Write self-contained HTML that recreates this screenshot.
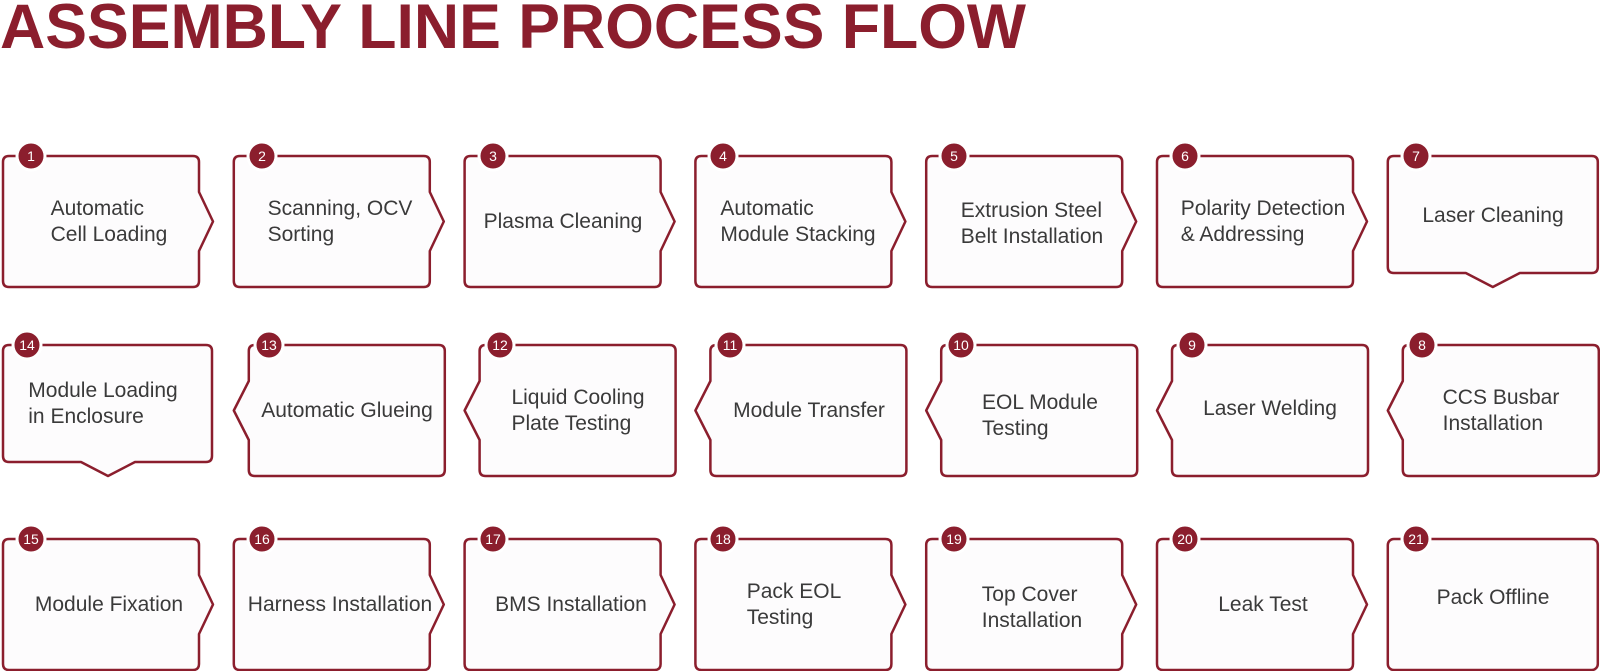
<!DOCTYPE html>
<html><head><meta charset="utf-8"><style>
body{margin:0;width:1600px;height:671px;background:#fff;position:relative;overflow:hidden;font-family:"Liberation Sans",sans-serif}
svg{position:absolute;left:0;top:0}
.t{position:absolute;display:flex;align-items:center;justify-content:center;text-align:left;font-size:21px;line-height:26px;color:#3a3a3a}
</style></head><body>
<svg width="1600" height="671" viewBox="0 0 1600 671">
<defs>
<path id="R" d="M6,0 H190 Q196,0 196,6 V36 L210,65.5 L196,95 V125 Q196,131 190,131 H6 Q0,131 0,125 V6 Q0,0 6,0 Z"/>
<path id="L" d="M21,0 H205 Q211,0 211,6 V125 Q211,131 205,131 H21 Q15,131 15,125 V95 L0,65.5 L15,36 V6 Q15,0 21,0 Z"/>
</defs>
<text x="0" y="48" font-family="Liberation Sans" font-weight="bold" font-size="63" fill="#8b1e2d" textLength="1026" lengthAdjust="spacingAndGlyphs">ASSEMBLY LINE PROCESS FLOW</text>
<g fill="#fdfcfd" stroke="#8b1e2d" stroke-width="2.5" stroke-linejoin="round">
<use href="#R" x="3" y="156"/><use href="#R" x="233.8" y="156"/><use href="#R" x="464.6" y="156"/><use href="#R" x="695.4" y="156"/><use href="#R" x="926.2" y="156"/><use href="#R" x="1157" y="156"/>
<path transform="translate(1387.8,156)" d="M6,0 H204 Q210,0 210,6 V111 Q210,117 204,117 H132 L105,131 L78,117 H6 Q0,117 0,111 V6 Q0,0 6,0 Z"/>
<path transform="translate(3,345)" d="M6,0 H203 Q209,0 209,6 V111 Q209,117 203,117 H132 L105,131 L78,117 H6 Q0,117 0,111 V6 Q0,0 6,0 Z"/>
<use href="#L" x="233.8" y="345"/><use href="#L" x="464.6" y="345"/><use href="#L" x="695.4" y="345"/><use href="#L" x="926.2" y="345"/><use href="#L" x="1157" y="345"/><use href="#L" x="1387.8" y="345"/>
<use href="#R" x="3" y="539"/><use href="#R" x="233.8" y="539"/><use href="#R" x="464.6" y="539"/><use href="#R" x="695.4" y="539"/><use href="#R" x="926.2" y="539"/><use href="#R" x="1157" y="539"/>
<rect x="1387.8" y="539" width="210" height="131" rx="6"/>
</g>
<g fill="#8b1e2d" stroke="#fff" stroke-width="3">
<circle cx="31" cy="156" r="14"/><circle cx="262" cy="156" r="14"/><circle cx="493" cy="156" r="14"/><circle cx="723" cy="156" r="14"/><circle cx="954" cy="156" r="14"/><circle cx="1185" cy="156" r="14"/><circle cx="1416" cy="156" r="14"/>
<circle cx="27" cy="345" r="14"/><circle cx="269" cy="345" r="14"/><circle cx="500" cy="345" r="14"/><circle cx="730" cy="345" r="14"/><circle cx="961" cy="345" r="14"/><circle cx="1192" cy="345" r="14"/><circle cx="1422" cy="345" r="14"/>
<circle cx="31" cy="539" r="14"/><circle cx="262" cy="539" r="14"/><circle cx="493" cy="539" r="14"/><circle cx="723" cy="539" r="14"/><circle cx="954" cy="539" r="14"/><circle cx="1185" cy="539" r="14"/><circle cx="1416" cy="539" r="14"/>
</g>
<g fill="#fff" font-family="Liberation Sans" font-size="14" text-anchor="middle">
<text x="31" y="161">1</text><text x="262" y="161">2</text><text x="493" y="161">3</text><text x="723" y="161">4</text><text x="954" y="161">5</text><text x="1185" y="161">6</text><text x="1416" y="161">7</text>
<text x="27" y="350">14</text><text x="269" y="350">13</text><text x="500" y="350">12</text><text x="730" y="350">11</text><text x="961" y="350">10</text><text x="1192" y="350">9</text><text x="1422" y="350">8</text>
<text x="31" y="544">15</text><text x="262" y="544">16</text><text x="493" y="544">17</text><text x="723" y="544">18</text><text x="954" y="544">19</text><text x="1185" y="544">20</text><text x="1416" y="544">21</text>
</g>
</svg>
<div class="t" style="left:3px;top:158px;width:212px;height:128px">Automatic<br>Cell Loading</div>
<div class="t" style="left:234px;top:158px;width:212px;height:128px">Scanning, OCV<br>Sorting</div>
<div class="t" style="left:465px;top:158px;width:196px;height:128px">Plasma Cleaning</div>
<div class="t" style="left:696px;top:158px;width:204px;height:128px">Automatic<br>Module Stacking</div>
<div class="t" style="left:926px;top:158px;width:212px;height:132px">Extrusion Steel<br>Belt Installation</div>
<div class="t" style="left:1157px;top:158px;width:212px;height:128px">Polarity Detection<br>&amp; Addressing</div>
<div class="t" style="left:1388px;top:158px;width:210px;height:115px">Laser Cleaning</div>
<div class="t" style="left:3px;top:347px;width:200px;height:113px">Module Loading<br>in Enclosure</div>
<div class="t" style="left:249px;top:347px;width:196px;height:128px">Automatic Glueing</div>
<div class="t" style="left:480px;top:347px;width:196px;height:128px">Liquid Cooling<br>Plate Testing</div>
<div class="t" style="left:711px;top:347px;width:196px;height:128px">Module Transfer</div>
<div class="t" style="left:942px;top:352px;width:196px;height:128px">EOL Module<br>Testing</div>
<div class="t" style="left:1172px;top:345px;width:196px;height:128px">Laser Welding</div>
<div class="t" style="left:1403px;top:347px;width:196px;height:128px">CCS Busbar<br>Installation</div>
<div class="t" style="left:3px;top:541px;width:212px;height:128px">Module Fixation</div>
<div class="t" style="left:234px;top:541px;width:212px;height:128px">Harness Installation</div>
<div class="t" style="left:465px;top:541px;width:212px;height:128px">BMS Installation</div>
<div class="t" style="left:696px;top:541px;width:196px;height:128px">Pack EOL<br>Testing</div>
<div class="t" style="left:926px;top:544px;width:212px;height:128px">Top Cover<br>Installation</div>
<div class="t" style="left:1157px;top:541px;width:212px;height:128px">Leak Test</div>
<div class="t" style="left:1388px;top:534px;width:210px;height:128px">Pack Offline</div>
</body></html>
